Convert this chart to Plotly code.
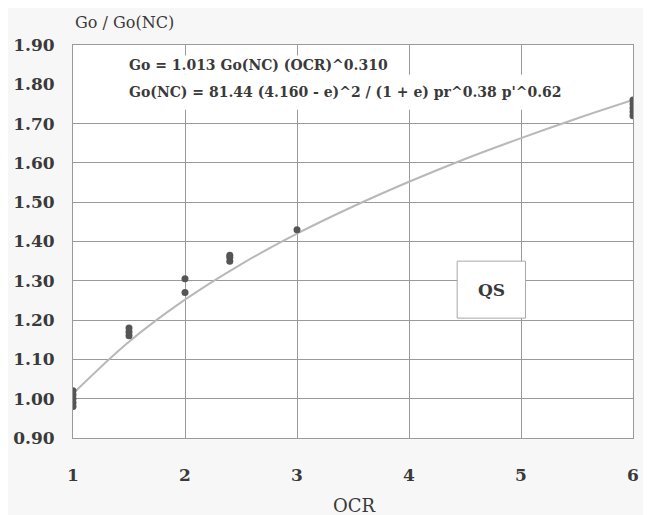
import plotly.graph_objects as go

# measured points (OCR, Go/Go(NC))
pt_ocr = [1, 1, 1, 1, 1, 1.5, 1.5, 1.5, 2, 2, 2.4, 2.4, 2.4, 3, 6, 6, 6, 6, 6]
pt_ratio = [0.98, 0.99, 1.00, 1.01, 1.02, 1.16, 1.17, 1.18, 1.27, 1.305,
            1.35, 1.36, 1.365, 1.43, 1.72, 1.73, 1.74, 1.75, 1.76]

# fitted curve
fit_ocr = [1, 1.5, 2, 2.5, 3, 3.5, 4, 4.5, 5, 5.5, 6]
fit_ratio = [1.013, 1.145, 1.252, 1.342, 1.420, 1.489, 1.552, 1.610, 1.663, 1.713, 1.760]

x_ticks = [1, 2, 3, 4, 5, 6]
y_ticks = [0.90, 1.00, 1.10, 1.20, 1.30, 1.40, 1.50, 1.60, 1.70, 1.80, 1.90]
y_labels = ["%.2f" % v for v in y_ticks]

eq1 = "Go = 1.013 Go(NC) (OCR)^0.310"
eq2 = "Go(NC) = 81.44 (4.160 - e)^2 / (1 + e) pr^0.38 p'^0.62"
box_label = "QS"
y_title = "Go / Go(NC)"
x_title = "OCR"

FONT = "DejaVu Serif"
TXT = "#3a3a3a"
GRID = "#9a9a9a"

fig = go.Figure()
fig.add_trace(go.Scatter(x=fit_ocr, y=fit_ratio, mode="lines",
                         line=dict(color="#b8b8b8", width=2, shape="spline"),
                         showlegend=False, hoverinfo="skip"))
fig.add_trace(go.Scatter(x=pt_ocr, y=pt_ratio, mode="markers",
                         marker=dict(color="#555555", size=7, symbol="circle"),
                         showlegend=False))

# white band hiding grid behind the equation text
fig.add_shape(type="rect", xref="x", yref="y", x0=1, x1=6, y0=1.735, y1=1.824,
              fillcolor="white", line=dict(width=0), layer="between")
# QS box
fig.add_shape(type="rect", xref="x", yref="y", x0=4.43, x1=5.04, y0=1.205, y1=1.35,
              fillcolor="white", line=dict(color="#a8a8a8", width=1), layer="above")

fig.add_annotation(x=4.74, y=1.277, xref="x", yref="y", text="<b>%s</b>" % box_label,
                   showarrow=False, font=dict(family=FONT, size=17, color=TXT))
fig.add_annotation(x=1.482, y=1.849, xref="x", yref="y", text="<b>%s</b>" % eq1,
                   xanchor="left", yanchor="middle", showarrow=False, bgcolor="white",
                   font=dict(family=FONT, size=14, color=TXT))
fig.add_annotation(x=1.482, y=1.780, xref="x", yref="y", text="<b>%s</b>" % eq2,
                   xanchor="left", yanchor="middle", showarrow=False,
                   font=dict(family=FONT, size=14, color=TXT))
fig.add_annotation(x=0, y=1.0585, xref="paper", yref="paper", text=y_title,
                   xanchor="left", yanchor="middle", showarrow=False,
                   font=dict(family=FONT, size=16, color=TXT))
fig.add_annotation(x=0.502, y=-0.1705, xref="paper", yref="paper", text=x_title,
                   xanchor="center", yanchor="middle", showarrow=False,
                   font=dict(family=FONT, size=18, color=TXT))

fig.update_layout(
    width=643, height=507,
    margin=dict(l=65, r=18, t=37, b=77, autoexpand=False),
    paper_bgcolor="#f7f7f7", plot_bgcolor="white",
    font=dict(family=FONT, color=TXT),
    xaxis=dict(range=[1, 6], tickvals=x_ticks, showgrid=True, gridcolor=GRID, gridwidth=1,
               zeroline=False, showline=True, linecolor=GRID, mirror=True, automargin=False,
               ticks="outside", ticklen=22, tickcolor="rgba(0,0,0,0)",
               tickfont=dict(family=FONT, size=17, color=TXT, weight="bold")),
    yaxis=dict(range=[0.90, 1.90], tickvals=y_ticks, ticktext=y_labels, showgrid=True,
               gridcolor=GRID, gridwidth=1, zeroline=False, showline=True, linecolor=GRID,
               mirror=True, automargin=False, ticks="outside", ticklen=14,
               tickcolor="rgba(0,0,0,0)",
               tickfont=dict(family=FONT, size=17, color=TXT, weight="bold")),
)

fig.write_html("out.html")
